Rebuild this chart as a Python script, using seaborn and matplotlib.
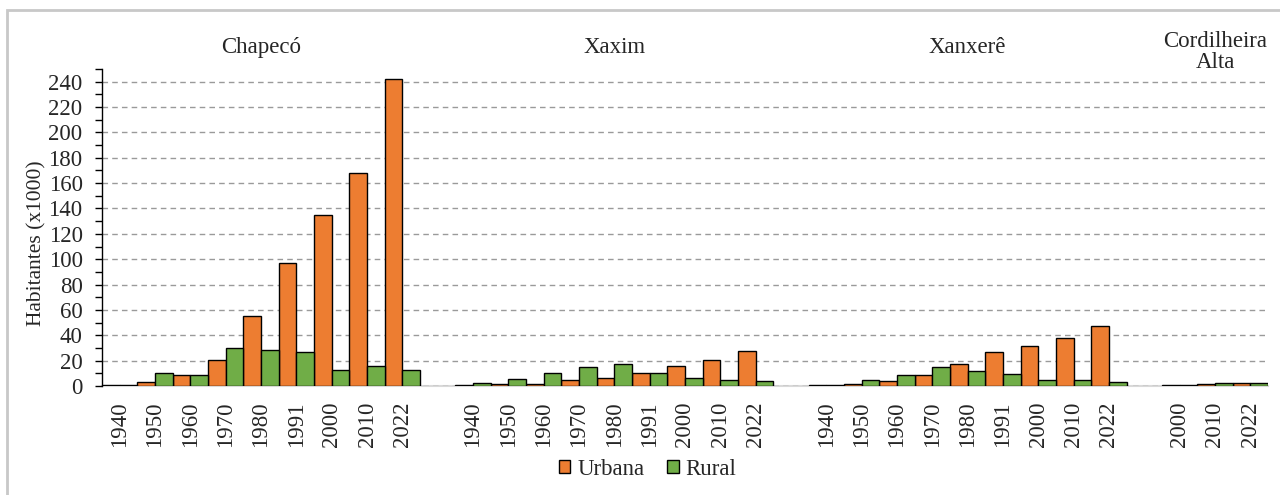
import matplotlib.pyplot as plt
import seaborn as sns
import pandas as pd
from matplotlib.patches import Rectangle
from matplotlib.ticker import MultipleLocator

# dados (habitantes x1000)
cidades = ['Chapecó', 'Xaxim', 'Xanxerê', 'Cordilheira\nAlta']
anos = [1940, 1950, 1960, 1970, 1980, 1991, 2000, 2010, 2022]
anos_cordilheira = [2000, 2010, 2022]

chapeco_urbana = [0.4, 3.2, 8.4, 20.3, 55, 97, 135, 168, 242.5]
chapeco_rural = [0.4, 10, 8.4, 29.8, 28.2, 26.6, 12.4, 15.5, 12.4]
xaxim_urbana = [0.4, 1.3, 1.3, 4.4, 6.7, 10.5, 16, 20.5, 27.4]
xaxim_rural = [2, 5.9, 10.5, 15, 17.4, 10.5, 6.7, 4.4, 3.6]
xanxere_urbana = [0.4, 1.3, 3.6, 9, 17.4, 26.7, 31.3, 38.2, 47.7]
xanxere_rural = [0.4, 5.1, 9, 15, 12, 9.7, 5.1, 5.1, 2.8]
cordilheira_urbana = [0.4, 1.3, 2]
cordilheira_rural = [0.4, 2, 2]

series = [
    (cidades[0], anos, chapeco_urbana, chapeco_rural),
    (cidades[1], anos, xaxim_urbana, xaxim_rural),
    (cidades[2], anos, xanxere_urbana, xanxere_rural),
    (cidades[3], anos_cordilheira, cordilheira_urbana, cordilheira_rural),
]

laranja = '#ED7D31'
verde = '#70AD47'

linhas = []
ordem = []        # ordem das categorias no eixo x (com espaços entre cidades)
rotulos = []
for i, (cidade, anos_c, urb, rur) in enumerate(series):
    if i > 0:
        ordem.append(f'vazio{i}')
        rotulos.append('')
    for ano, u, r in zip(anos_c, urb, rur):
        slot = f'{cidade}-{ano}'
        ordem.append(slot)
        rotulos.append(str(ano))
        linhas.append({'slot': slot, 'cidade': cidade, 'tipo': 'Urbana', 'valor': u})
        linhas.append({'slot': slot, 'cidade': cidade, 'tipo': 'Rural', 'valor': r})
df = pd.DataFrame(linhas)

sns.set_theme(style='white')
plt.rcParams['font.family'] = ['Liberation Serif', 'DejaVu Serif']

fig, ax = plt.subplots(figsize=(12.8, 4.95), dpi=100)
fig.subplots_adjust(left=0.0797, right=0.9906, bottom=0.2202, top=0.8606)

sns.barplot(data=df, x='slot', y='valor', hue='tipo',
            order=ordem, hue_order=['Urbana', 'Rural'],
            palette=[laranja, verde], saturation=1, width=1,
            edgecolor='black', linewidth=1, errorbar=None, ax=ax)

ax.set_xlim(-0.5, len(ordem) - 0.5)
ax.set_ylim(0, 250)
ax.yaxis.set_major_locator(MultipleLocator(20))
ax.yaxis.set_minor_locator(MultipleLocator(10))
ax.set_yticks(range(0, 241, 20))
ax.tick_params(axis='y', which='both', direction='out', length=5, width=1,
               color='black', left=True, pad=9, labelsize=16.5)
ax.tick_params(axis='x', length=0, pad=11, labelsize=16.5)
ax.set_xticks(range(len(ordem)))
ax.set_xticklabels(rotulos, rotation=90)

ax.yaxis.grid(True, which='major', linestyle=(0, (4, 3)), color='#9A9A9A', linewidth=1)
ax.set_axisbelow(True)
for lado in ['top', 'right']:
    ax.spines[lado].set_visible(False)
ax.spines['left'].set_color('black')
ax.spines['left'].set_linewidth(1)
ax.spines['bottom'].set_color('#D9D9D9')
ax.spines['bottom'].set_linewidth(1.5)
ax.spines['bottom'].set_zorder(0.5)

ax.set_xlabel('')
ax.set_ylabel('Habitantes (x1000)', fontsize=15.5)
ax.yaxis.set_label_coords(-0.048, 0.45)

# nomes das cidades acima de cada grupo
trans = ax.get_xaxis_transform()
for cidade, anos_c, _, _ in series:
    idx = [ordem.index(f'{cidade}-{a}') for a in anos_c]
    centro = sum(idx) / len(idx)
    y = 1.053 if '\n' in cidade else 1.069
    ax.text(centro, y, cidade, transform=trans, ha='center', va='center',
            fontsize=16.5, linespacing=1.0)

handles, labels = ax.get_legend_handles_labels()
ax.get_legend().remove()
fig.legend(handles, labels, loc='center', bbox_to_anchor=(0.506, 0.0525),
           ncol=2, frameon=False, fontsize=16.5, handlelength=0.5,
           handleheight=0.5, handletextpad=0.3, columnspacing=1.0)

# moldura cinza em volta do gráfico
fig.patches.append(Rectangle((7 / 1280, -0.1), 1.2, 1 - 10 / 495 + 0.1,
                             transform=fig.transFigure, fill=False,
                             edgecolor='#C8C8C8', linewidth=2))

fig.savefig('out.png', dpi=100)
